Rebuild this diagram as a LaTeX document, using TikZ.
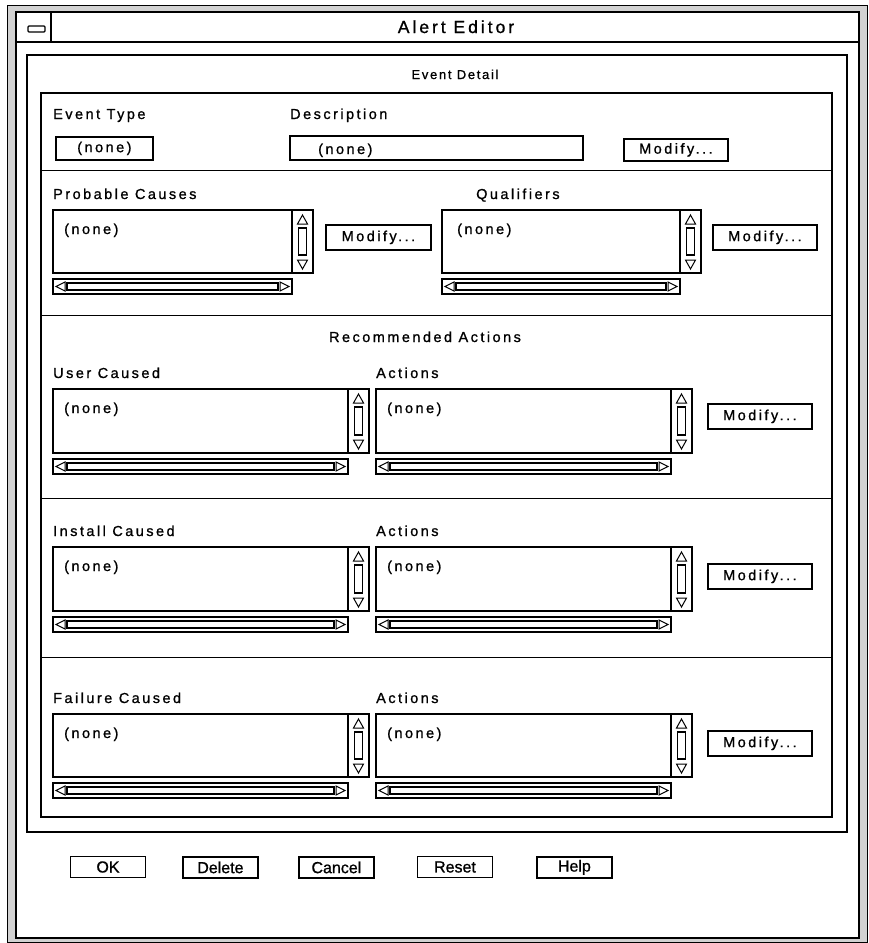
\documentclass[tikz,border=0pt]{standalone}
\usepackage{fontspec}
\setmainfont{Liberation Sans}
\newfontfamily\ui[LetterSpace=17,FakeBold=1.0]{Liberation Sans}
\newfontfamily\uismall[LetterSpace=13,FakeBold=1.0]{Liberation Sans}
\newfontfamily\uib[FakeBold=1.0]{Liberation Sans}
\begin{document}
\begin{tikzpicture}[x=1pt,y=-1pt,
  heavy/.style={draw,line width=2.3pt},
  arr/.style={draw,line width=1pt,line join=miter},
  lbl/.style={font=\ui\fontsize{14.5}{16}\selectfont,anchor=base west,inner sep=0},
  clbl/.style={font=\ui\fontsize{14.5}{16}\selectfont,anchor=base,inner sep=0},
  btn/.style={draw,line width=1.8pt,font=\ui\fontsize{14.5}{16}\selectfont,inner sep=0,anchor=north west},
  bbtn/.style={draw,line width=1.8pt,font=\uib\fontsize{16}{18}\selectfont,inner sep=0,anchor=north west,minimum width=75pt,minimum height=21pt}
]
\useasboundingbox (0,0) rectangle (869,943);
% window frame
\fill[gray!35,even odd rule] (7,5) rectangle (867,942) (16,12) rectangle (859,938);
\draw[line width=1pt] (7,5) rectangle (867,942);
\draw[line width=1.5pt] (16,12) rectangle (859,938);
% title bar
\draw[line width=1.5pt] (16,42) -- (859,42);
\draw[line width=1.2pt] (51,12) -- (51,42);
\draw[line width=1.3pt,rounded corners=1pt] (28,26) rectangle (45,32);
\node[font=\ui\fontsize{17.5}{19}\selectfont,anchor=base,inner sep=0] (title) at (456,33) {Alert Editor};
% main frames
\draw[heavy] (27,55) rectangle (847,832);
\draw[heavy] (41,93) rectangle (832,817);
\node[font=\uismall\fontsize{13}{15}\selectfont,anchor=base,inner sep=0] (evdetail) at (455,79) {Event Detail};
% separators
\foreach \yy in {170,315,498,657} \draw[line width=1pt] (41,\yy) -- (832,\yy);

% list box macro: x1 y1 x2 y2
\newcommand\uilist[4]{%
  \draw[heavy] (#1,#2) rectangle (#3,#4);
  \draw[line width=1.6pt] ({#3-21},#2) -- ({#3-21},#4);
  \draw[arr] ({#3-15.5},{#2+14}) -- ({#3-5.5},{#2+14}) -- ({#3-10.5},{#2+5}) -- cycle;
  \draw[line width=1.3pt] ({#3-14.5},{#2+18}) rectangle ({#3-6.5},{#4-18});
  \draw[arr] ({#3-15.5},{#4-13}) -- ({#3-5.5},{#4-13}) -- ({#3-10.5},{#4-4}) -- cycle;
  \draw[line width=1.3pt] (#1,{#4+6}) rectangle ({#3-21},{#4+21});
  \draw[arr] ({#1+12},{#4+9}) -- ({#1+12},{#4+18}) -- ({#1+3},{#4+13.5}) -- cycle;
  \draw[line width=1.2pt] ({#1+14},{#4+10}) rectangle ({#3-21-14},{#4+17});
  \draw[arr] ({#3-21-12},{#4+9}) -- ({#3-21-12},{#4+18}) -- ({#3-21-3},{#4+13.5}) -- cycle;
}
% row 1
\node[lbl] (evtype) at (53,119) {Event Type};
\node[lbl] (desc) at (290,119) {Description};
\node[btn,minimum width=97pt,minimum height=23pt] (evbtn) at (55,136) {(none)};
\draw[heavy] (290,136) rectangle (583,160);
\node[lbl] (descval) at (318,154) {(none)};
\node[btn,minimum width=104pt,minimum height=22pt] (mod0) at (623,138) {Modify...};

% row 2
\node[lbl] (probc) at (53,199) {Probable Causes};
\node[lbl] (qual) at (476,199) {Qualifiers};
\uilist{53}{210}{313}{273}
\uilist{442}{210}{701}{273}
\node[lbl] (pcval) at (64,234) {(none)};
\node[lbl] (qval) at (457,234) {(none)};
\node[btn,minimum width=105pt,minimum height=25pt] (mod1) at (325,224) {Modify...};
\node[btn,minimum width=104pt,minimum height=25pt] (mod2) at (712,224) {Modify...};

% recommended actions
\node[clbl] (recact) at (425,342) {Recommended Actions};

\node[lbl] (userc) at (53,378) {User Caused};
\node[lbl] (act1) at (376,378) {Actions};
\uilist{53}{389}{369}{453}
\uilist{376}{389}{692}{453}
\node[lbl] (ucval) at (64,413) {(none)};
\node[lbl] (a1val) at (387,413) {(none)};
\node[btn,minimum width=104pt,minimum height=25pt] (mod3) at (707,403) {Modify...};

\node[lbl] (instc) at (53,536) {Install Caused};
\node[lbl] (act2) at (376,536) {Actions};
\uilist{53}{547}{369}{611}
\uilist{376}{547}{692}{611}
\node[lbl] (icval) at (64,571) {(none)};
\node[lbl] (a2val) at (387,571) {(none)};
\node[btn,minimum width=104pt,minimum height=25pt] (mod4) at (707,563) {Modify...};

\node[lbl] (failc) at (53,703) {Failure Caused};
\node[lbl] (act3) at (376,703) {Actions};
\uilist{53}{714}{369}{777}
\uilist{376}{714}{692}{777}
\node[lbl] (fcval) at (64,738) {(none)};
\node[lbl] (a3val) at (387,738) {(none)};
\node[btn,minimum width=104pt,minimum height=25pt] (mod5) at (707,730) {Modify...};

% bottom buttons
\node[bbtn,line width=1pt] (ok) at (70,856) {OK};
\node[bbtn] (del) at (182,856) {Delete};
\node[bbtn] (cancel) at (298,856) {Cancel};
\node[bbtn,line width=1pt] (reset) at (417,856) {Reset};
\node[bbtn] (help) at (536,856) {Help};
\end{tikzpicture}
\end{document}
